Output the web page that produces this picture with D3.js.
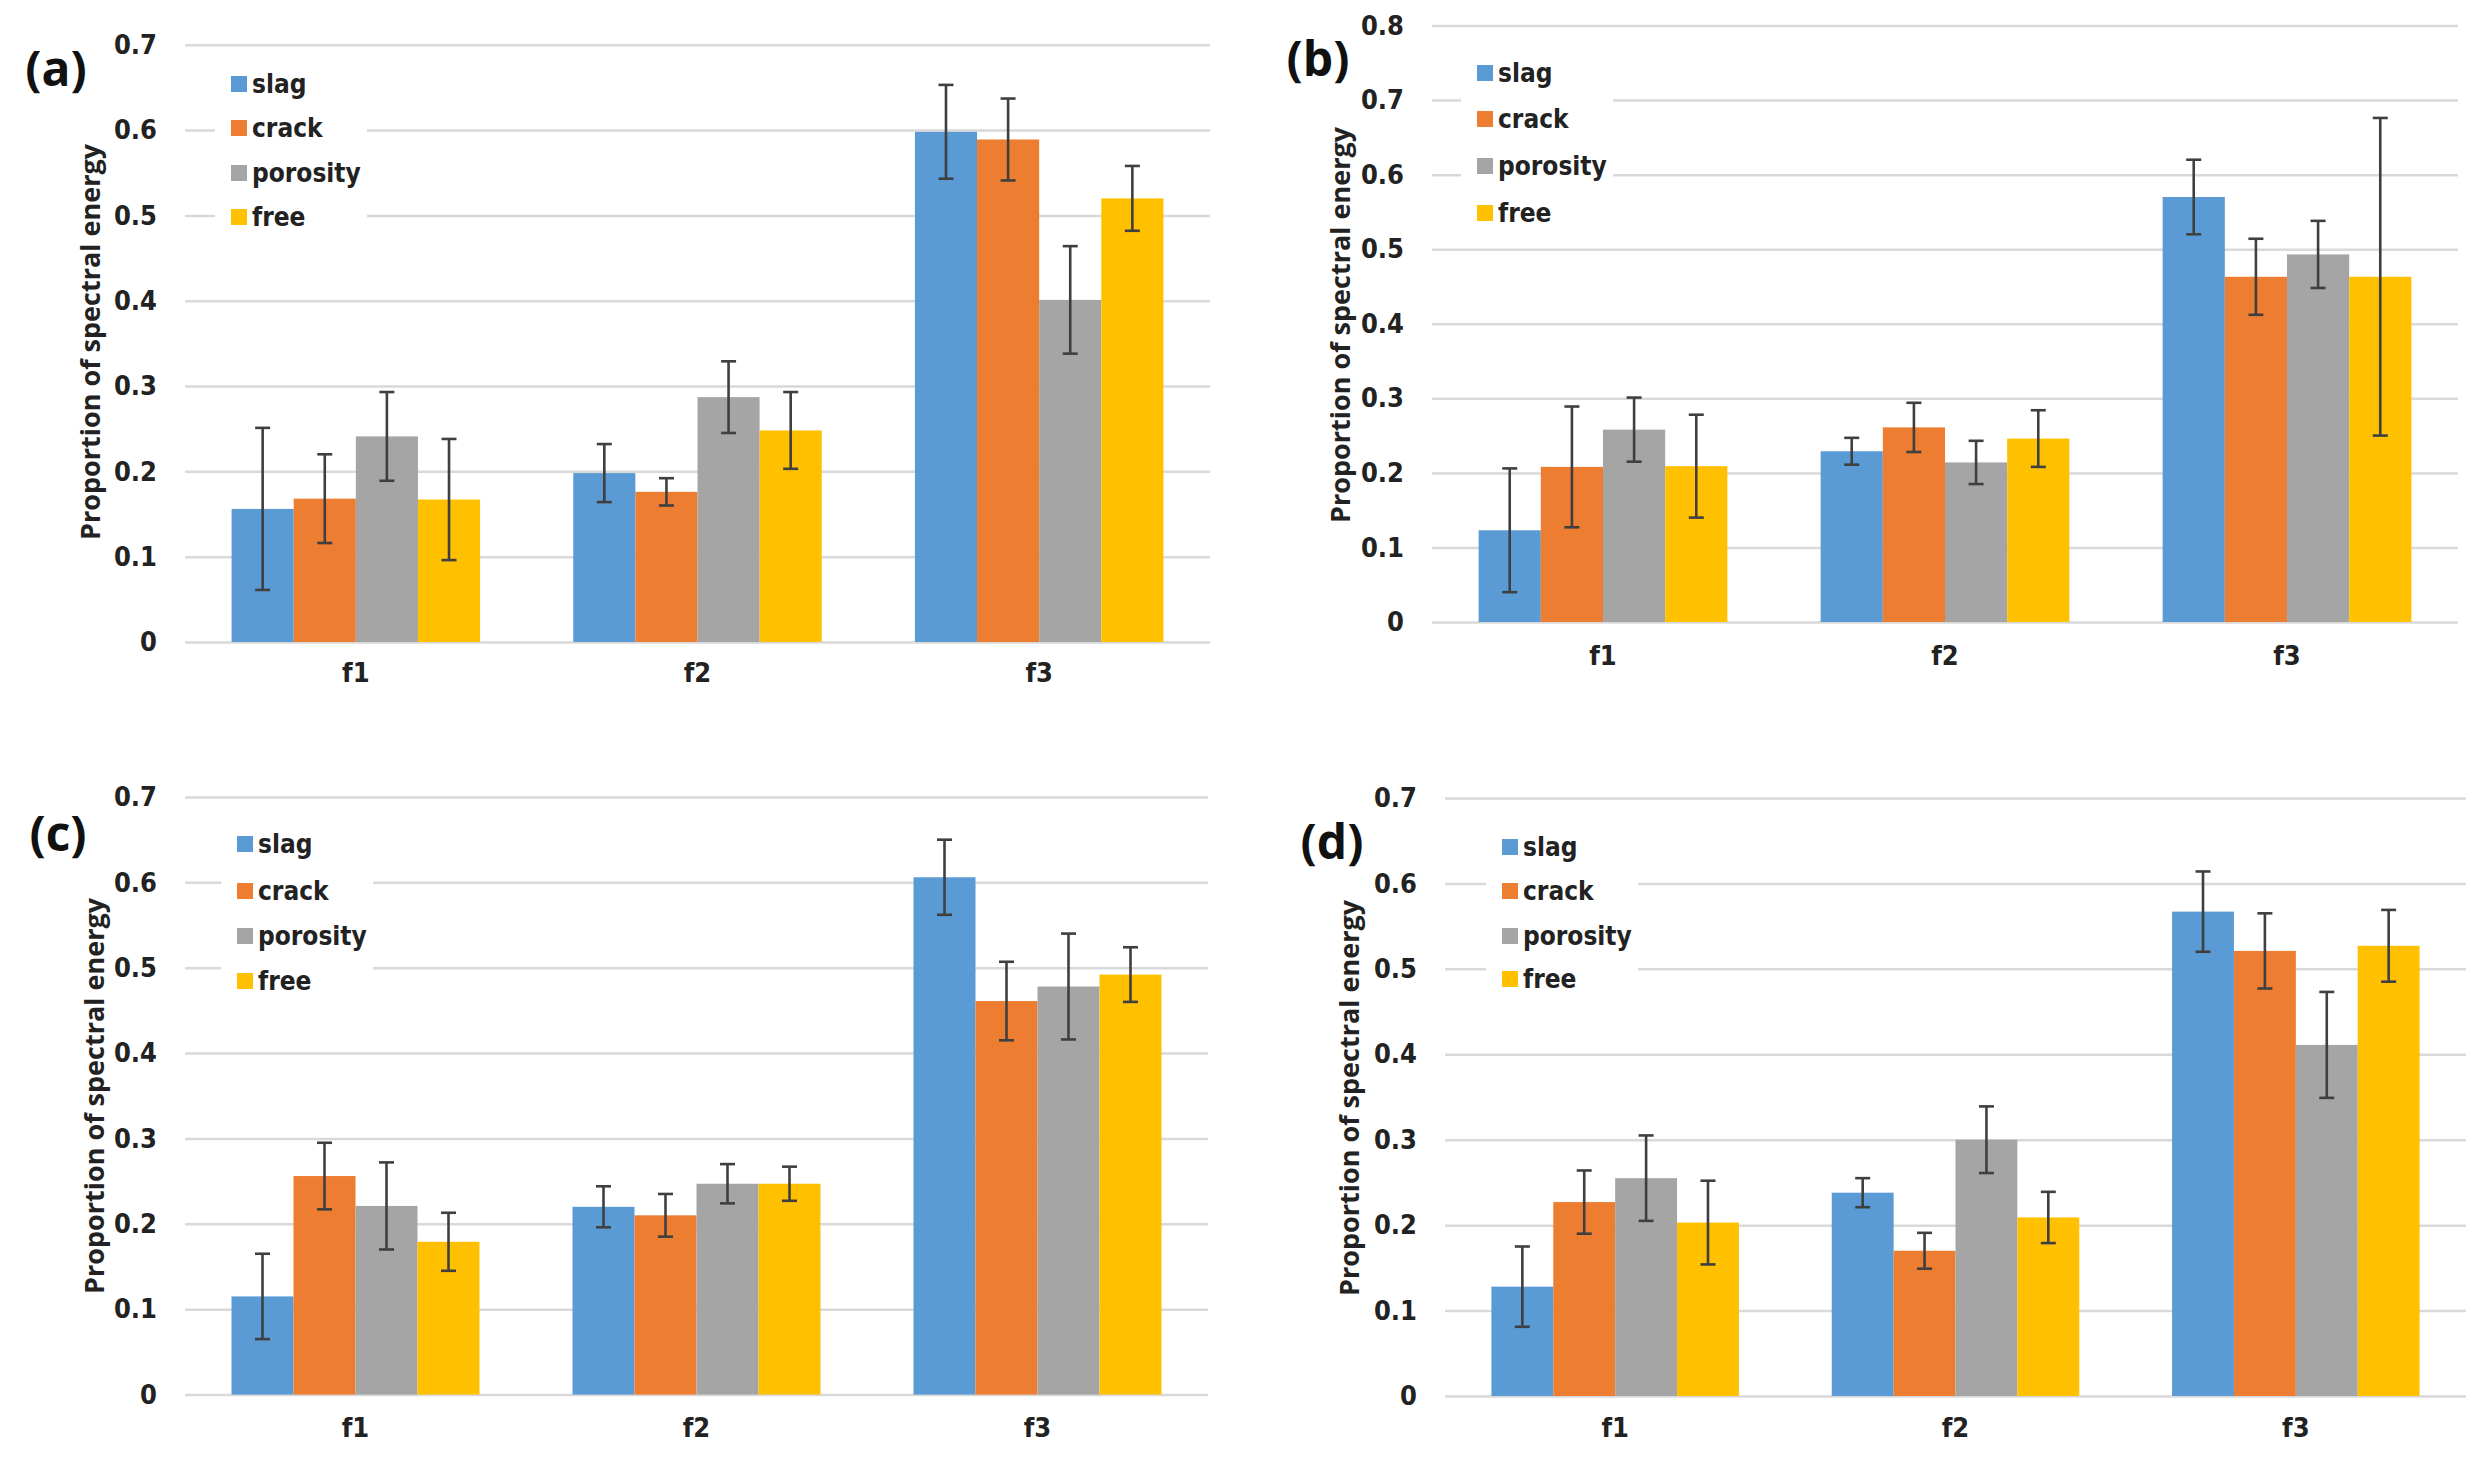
<!doctype html>
<html lang="en">
<head>
<meta charset="utf-8" />
  <title>Proportion of spectral energy</title>
  <script src="https://d3js.org/d3.v7.min.js"></script>
  <style type="text/css">
    html, body { margin: 0; padding: 0; background: #fff; }
    .tick text { font-family: "Liberation Sans Narrow", "DejaVu Sans Condensed", sans-serif; font-weight: bold; fill: #222; }
  </style>
  <script>

// data
var categories = ["f1", "f2", "f3"];
var series = ["slag", "crack", "porosity", "free"];
var colors = ["#5B9BD5", "#ED7D31", "#A5A5A5", "#FFC000"];
var ticks7 = [0, 0.1, 0.2, 0.3, 0.4, 0.5, 0.6, 0.7];
var ticks8 = [0, 0.1, 0.2, 0.3, 0.4, 0.5, 0.6, 0.7, 0.8];

// one row per series, one value per category
var valuesA = [[0.156, 0.198, 0.598], [0.168, 0.176, 0.589], [0.241, 0.287, 0.401], [0.167, 0.248, 0.520]];
var errorsA = [[0.095, 0.034, 0.055], [0.052, 0.016, 0.048], [0.052, 0.042, 0.063], [0.071, 0.045, 0.038]];

var valuesB = [[0.123, 0.229, 0.570], [0.208, 0.261, 0.463], [0.258, 0.214, 0.493], [0.209, 0.246, 0.463]];
var errorsB = [[0.083, 0.018, 0.050], [0.081, 0.033, 0.051], [0.043, 0.029, 0.045], [0.069, 0.038, 0.213]];

var valuesC = [[0.115, 0.220, 0.606], [0.256, 0.210, 0.461], [0.221, 0.247, 0.478], [0.179, 0.247, 0.492]];
var errorsC = [[0.050, 0.024, 0.044], [0.039, 0.025, 0.046], [0.051, 0.023, 0.062], [0.034, 0.020, 0.032]];

var valuesD = [[0.128, 0.238, 0.567], [0.227, 0.170, 0.521], [0.255, 0.300, 0.411], [0.203, 0.209, 0.527]];
var errorsD = [[0.047, 0.017, 0.047], [0.037, 0.021, 0.044], [0.050, 0.039, 0.062], [0.049, 0.030, 0.042]];

// placement of the four panels
var panneaux = [
  {nom:"(a)", val:valuesA, err:errorsA, ticks:ticks7, gauche:185, droite:1210, haut:44.8, bas:642, lx:56, ly:69, legX:231, legY:[84, 128, 173, 217], yl:91, ylY:342, xlab:677},
  {nom:"(b)", val:valuesB, err:errorsB, ticks:ticks8, gauche:1432, droite:2458, haut:25.5, bas:622, lx:1318, ly:59, legX:1477, legY:[73, 119, 166, 213], yl:1341, ylY:325, xlab:660},
  {nom:"(c)", val:valuesC, err:errorsC, ticks:ticks7, gauche:185, droite:1208, haut:797, bas:1394.6, lx:58, ly:834, legX:237, legY:[844, 891, 936, 981], yl:95, ylY:1096, xlab:1432},
  {nom:"(d)", val:valuesD, err:errorsD, ticks:ticks7, gauche:1445, droite:2466, haut:798, bas:1396, lx:1332, ly:842, legX:1502, legY:[847, 891, 936, 979], yl:1350, ylY:1098, xlab:1432}
];

function dessinePanneau(svg, p) {
  var y = d3.scaleLinear().domain([0, p.ticks[p.ticks.length-1]]).range([p.bas, p.haut]);
  var x = d3.scaleBand().domain(categories).range([p.gauche, p.droite]);
  // gap width 150% like the spreadsheet default
  var largeur = x.bandwidth() / 5.5;
  var xs = d3.scaleBand().domain(series).range([0.75*largeur, 4.75*largeur]);

  var g = svg.append("g");
  // grid lines
  g.append("g").attr("transform", "translate(" + p.gauche + ",0)")
    .call(d3.axisLeft(y).tickValues(p.ticks).tickSize(-(p.droite - p.gauche)).tickFormat(""))
    .call(function(a){ a.select(".domain").remove(); a.selectAll("line").attr("stroke", "#d9d9d9").attr("stroke-width", 2.5); });
  // tick labels
  g.append("g").attr("transform", "translate(" + p.gauche + ",0)")
    .call(d3.axisLeft(y).tickValues(p.ticks).tickSize(0).tickPadding(28).tickFormat(d3.format("")))
    .call(function(a){ a.select(".domain").remove(); a.selectAll("text").attr("font-size", 27); });
  // category labels
  g.append("g").attr("transform", "translate(0," + (p.xlab - 14) + ")")
    .call(d3.axisBottom(x).tickSize(0).tickPadding(0))
    .call(function(a){ a.select(".domain").remove(); a.selectAll("text").attr("font-size", 27); });

  // white box behind the legend hides the grid
  g.append("rect").attr("x", p.legX - 16).attr("y", p.legY[0] - 28)
    .attr("width", 152).attr("height", p.legY[3] - p.legY[0] + 56).attr("fill", "#fff");

  // bars
  series.forEach(function(s, i){
    g.selectAll(".b" + i).data(categories).enter().append("rect")
      .attr("x", function(c){ return x(c) + xs(s); })
      .attr("y", function(c, j){ return y(p.val[i][j]); })
      .attr("width", xs.bandwidth())
      .attr("height", function(c, j){ return y(0) - y(p.val[i][j]); })
      .attr("fill", colors[i]);
  });
  // error bars
  series.forEach(function(s, i){
    categories.forEach(function(c, j){
      var cx = x(c) + xs(s) + xs.bandwidth()/2;
      var h = y(p.val[i][j] + p.err[i][j]), b = y(p.val[i][j] - p.err[i][j]);
      var eb = g.append("g").attr("stroke", "#3f3f3f").attr("stroke-width", 2.6);
      eb.append("line").attr("x1", cx).attr("x2", cx).attr("y1", h).attr("y2", b);
      eb.append("line").attr("x1", cx-7.5).attr("x2", cx+7.5).attr("y1", h).attr("y2", h);
      eb.append("line").attr("x1", cx-7.5).attr("x2", cx+7.5).attr("y1", b).attr("y2", b);
    });
  });

  // legend
  series.forEach(function(s, i){
    g.append("rect").attr("x", p.legX).attr("y", p.legY[i] - 8).attr("width", 16).attr("height", 16).attr("fill", colors[i]);
    g.append("text").attr("x", p.legX + 21).attr("y", p.legY[i]).attr("dy", "0.35em")
      .attr("font-family", "\"Liberation Sans Narrow\", \"DejaVu Sans Condensed\", sans-serif")
      .attr("font-weight", "bold").attr("font-size", 26).attr("fill", "#222").text(s);
  });

  // axis title
  g.append("text").attr("transform", "translate(" + p.yl + "," + p.ylY + ") rotate(-90)")
    .attr("text-anchor", "middle").attr("dy", "0.35em")
    .attr("font-family", "\"Open Sans\", sans-serif").attr("font-weight", "bold")
    .attr("font-size", 27).attr("fill", "#222").text("Proportion of spectral energy");

  // panel letter
  g.append("text").attr("x", p.lx).attr("y", p.ly).attr("dy", "0.35em").attr("text-anchor", "middle")
    .attr("font-family", "\"Open Sans\", sans-serif").attr("font-weight", "bold")
    .attr("font-size", 48).attr("fill", "#111").text(p.nom);
}

window.onload = function(){
  var svg = d3.select("#figure").append("svg").attr("width", 2492).attr("height", 1463);
  svg.append("rect").attr("width", 2492).attr("height", 1463).attr("fill", "#fff");
  panneaux.forEach(function(p){ dessinePanneau(svg, p); });
};

  </script>
</head>
<body>
  <div id="figure"></div>
</body>
</html>
